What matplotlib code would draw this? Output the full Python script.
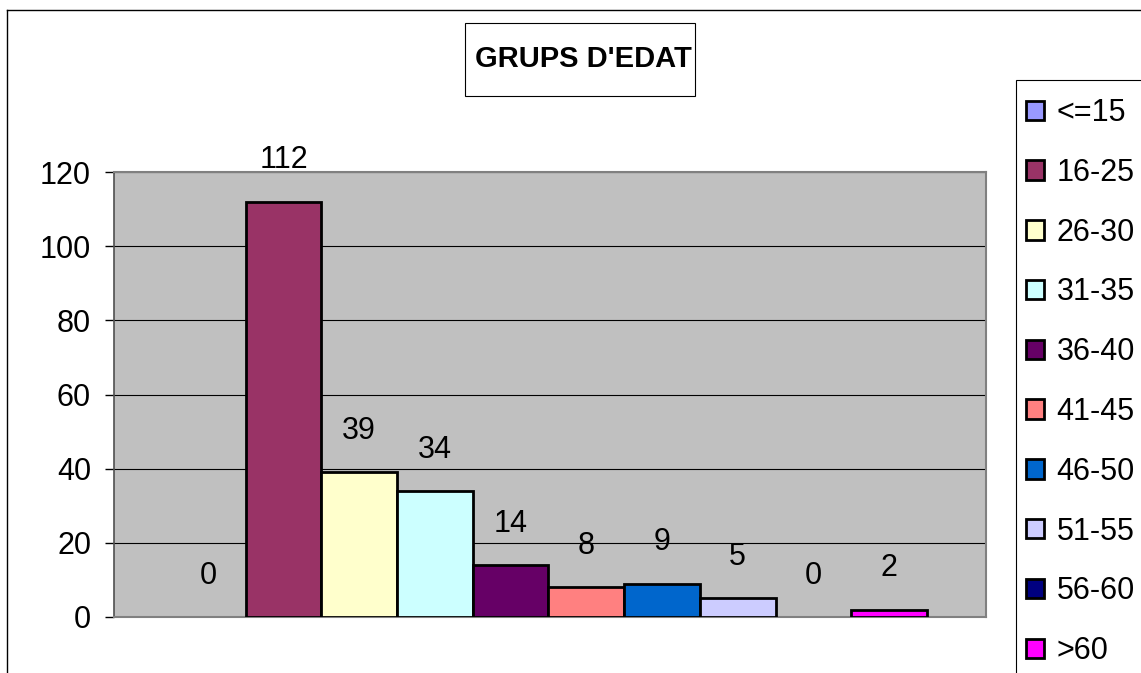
import matplotlib.pyplot as plt
from matplotlib.patches import Rectangle, Patch
from matplotlib.lines import Line2D
import numpy as np

plt.rcParams['font.family'] = ['Liberation Sans', 'DejaVu Sans']

# age groups and counts
groups = ['<=15', '16-25', '26-30', '31-35', '36-40', '41-45', '46-50', '51-55', '56-60', '>60']
counts = [0, 112, 39, 34, 14, 8, 9, 5, 0, 2]
colors = ['#9999FF', '#993366', '#FFFFCC', '#CCFFFF', '#660066',
          '#FF8080', '#0066CC', '#CCCCFF', '#000080', '#FF00FF']
yticks = [0, 20, 40, 60, 80, 100, 120]
title = "GRUPS D'EDAT"

W, H = 1141, 673
fs = 22
fig = plt.figure(figsize=(W / 100, H / 100), dpi=100)
fig.patch.set_facecolor('white')

ax = fig.add_axes([114 / W, 1 - 617 / H, (986 - 114) / W, (617 - 172) / H])
ax.set_facecolor('#C0C0C0')

x = np.arange(len(groups))
handles = []
for i in range(len(groups)):
    # zero bars leave no outline in the original
    lw = 2 if counts[i] > 0 else 0
    ax.bar(x[i], counts[i], width=1.0, color=colors[i], edgecolor='black',
           linewidth=lw, zorder=3)
    ax.annotate(str(counts[i]), (x[i], counts[i]), xytext=(0, 24),
                textcoords='offset points', ha='center', va='baseline',
                fontsize=fs, annotation_clip=False)
    handles.append(Patch(facecolor=colors[i], edgecolor='black', linewidth=2,
                         label=groups[i]))

ax.set_xlim(-1.24, 10.28)
ax.set_ylim(0, 120)
ax.set_yticks(yticks)
ax.set_xticks([])
ax.tick_params(axis='y', direction='out', length=6.5, width=1, color='black',
               labelsize=fs, pad=10)
ax.yaxis.grid(True, color='black', linewidth=0.8)
ax.set_axisbelow(True)
for s in ['top', 'right', 'bottom']:
    ax.spines[s].set_color('#808080')
    ax.spines[s].set_linewidth(1.5)
ax.spines['left'].set_color('#505050')
ax.spines['left'].set_linewidth(1.2)

# outer chart border (left and top only visible)
fig.add_artist(Line2D([7 / W, 7 / W], [0, 1 - 10 / H], color='black', lw=1.0,
                      transform=fig.transFigure))
fig.add_artist(Line2D([7 / W, 1], [1 - 10 / H, 1 - 10 / H], color='black', lw=1.0,
                      transform=fig.transFigure))

# title box
fig.add_artist(Rectangle((465 / W, 1 - 96 / H), 230 / W, 73 / H, transform=fig.transFigure,
                         facecolor='white', edgecolor='black', lw=0.8))
fig.text(583 / W, 1 - 59 / H, title, ha='center', va='center', fontsize=21,
         fontweight='bold')

# legend box, runs off the right and bottom edges
fig.add_artist(Rectangle((1016 / W, -0.1), 0.5, 1.1 - 80 / H, transform=fig.transFigure,
                         facecolor='white', edgecolor='black', lw=0.8))
fig.legend(handles=handles, loc='upper left', bbox_to_anchor=(1026 / W, 1 - 98 / H),
           bbox_transform=fig.transFigure, frameon=False, fontsize=fs,
           borderpad=0, borderaxespad=0, handlelength=0.6, handleheight=0.6,
           handletextpad=0.4, labelspacing=0.975)

fig.savefig('out.png', dpi=100)
